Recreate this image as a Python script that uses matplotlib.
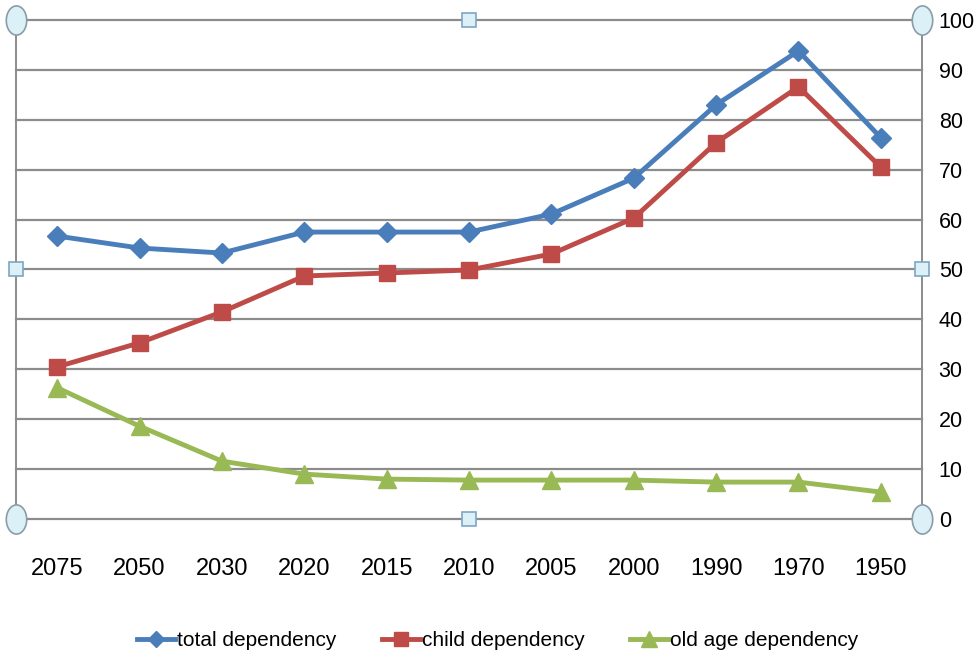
import numpy as np
import matplotlib
matplotlib.use("Agg")
import matplotlib.pyplot as plt
from matplotlib.path import Path
from matplotlib.transforms import Affine2D

plt.rcParams['font.family'] = ['Liberation Sans Narrow', 'Liberation Sans', 'DejaVu Sans']

years = ['2075', '2050', '2030', '2020', '2015', '2010', '2005', '2000', '1990', '1970', '1950']
total_dep = [56.7, 54.3, 53.3, 57.5, 57.5, 57.5, 61.1, 68.3, 83.0, 93.8, 76.4]
child_dep = [30.5, 35.3, 41.5, 48.7, 49.3, 49.9, 53.1, 60.3, 75.4, 86.6, 70.5]
old_dep = [26.3, 18.6, 11.6, 9.0, 8.0, 7.8, 7.8, 7.8, 7.4, 7.4, 5.4]

fig = plt.figure(figsize=(9.76, 6.59), dpi=100)
ax = fig.add_axes([0.0164, 0.2124, 0.9283, 0.7573])

x = np.arange(len(years))
ax.plot(x, total_dep, color='#4a7ebb', lw=3.5, marker='D', ms=10, label='total dependency', zorder=3)
ax.plot(x, child_dep, color='#be4b48', lw=3.5, marker='s', ms=12, label='child dependency', zorder=3)
ax.plot(x, old_dep, color='#98b954', lw=3.5, marker='^', ms=13, label='old age dependency', zorder=3)

ax.set_xlim(-0.5, len(years) - 0.5)
ax.set_ylim(0, 100)
ax.set_xticks(x)
ax.set_xticklabels(years, fontsize=17)
ax.set_yticks(np.arange(0, 101, 10))
ax.yaxis.tick_right()
ax.tick_params(axis='y', labelsize=15.5, length=0, pad=12)
ax.tick_params(axis='x', length=0, pad=28)
ax.yaxis.grid(True, color='#8c8c8c', lw=1.6)
for gl in ax.get_ygridlines():
    gl.set_clip_on(False)
ax.set_axisbelow(True)
for side in ['top', 'bottom']:
    ax.spines[side].set_visible(False)
for side in ['left', 'right']:
    ax.spines[side].set_color('#8c8c8c')
    ax.spines[side].set_linewidth(1.4)

# selection handles like in the spreadsheet
ellipse = Path.unit_circle().transformed(Affine2D().scale(0.7, 1.0))
for hx, hy in [(0, 0), (0, 1), (1, 0), (1, 1)]:
    ax.plot(hx, hy, marker=ellipse, ms=21, mfc='#dcf1f7', mec='#8a9ca6', mew=1.2,
            transform=ax.transAxes, clip_on=False, zorder=5)
for hx, hy in [(0.5, 0), (0.5, 1), (0, 0.5), (1, 0.5)]:
    ax.plot(hx, hy, marker='s', ms=10, mfc='#dcf1f7', mec='#7ea6c4', mew=1.2,
            transform=ax.transAxes, clip_on=False, zorder=5)

fig.legend(loc='center', bbox_to_anchor=(0.51, 0.028), ncol=3, frameon=False,
           fontsize=15, handlelength=1.8, handletextpad=0.1, columnspacing=2.2,
           markerscale=0.85)

fig.savefig('out.png', dpi=100)
